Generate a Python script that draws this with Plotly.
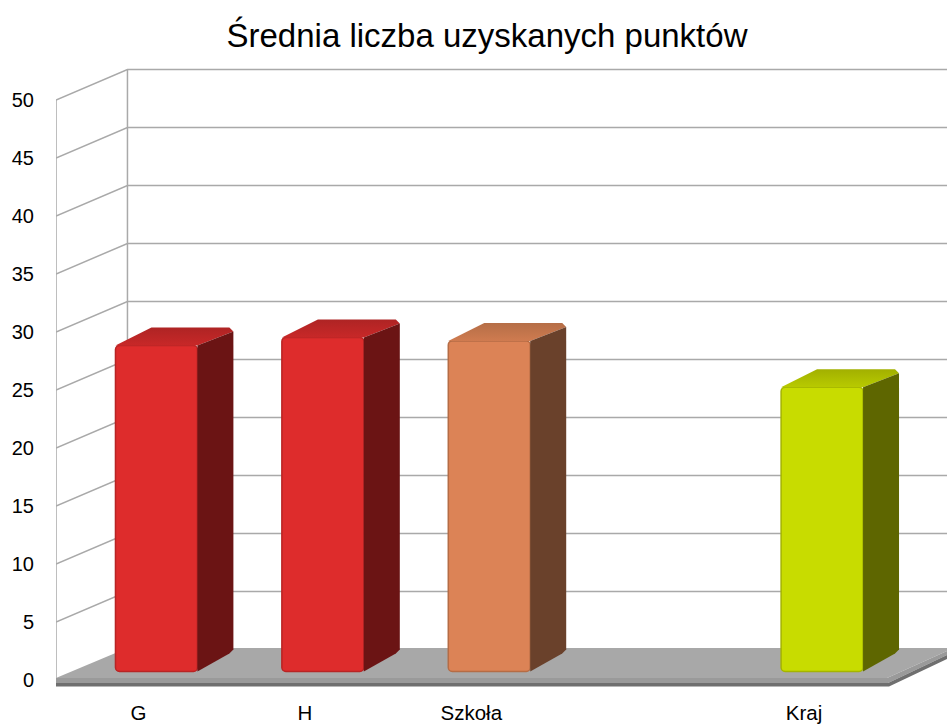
import plotly.graph_objects as go

title_text = "Średnia liczba uzyskanych punktów"
categories = ["G", "H", "Szkoła", "", "Kraj"]
values = [28.1, 28.8, 28.5, None, 24.5]
y_ticks = [0, 5, 10, 15, 20, 25, 30, 35, 40, 45, 50]
front_colors = ["#DE2C2C", "#DE2C2C", "#DC8356", None, "#C8DC00"]
edge_colors = ["#B82424", "#B82424", "#B56C45", None, "#A4B400"]
side_colors = ["#6B1414", "#6B1414", "#6A412B", None, "#5E6600"]
top_back_colors = ["#AE2424", "#AE2424", "#B56E47", None, "#A2B000"]
top_front_colors = ["#C82828", "#C82828", "#CF7B50", None, "#B8CA00"]

W, H = 947, 725
PX_X = 166.5          # pixels per category
PX_Y = 11.6           # pixels per value unit
ZERO_X, ZERO_Y = 156.0, 680.0
LEFT, BOTTOM = 55.5, 690.0


def dx(px):
    return px / PX_X


def dy(px):
    return px / PX_Y


def xd(px):
    return (px - ZERO_X) / PX_X


def yd(px):
    return (ZERO_Y - px) / PX_Y


def poly(points, fill, line=None, width=0):
    path = "M " + " L ".join(f"{x:.4f},{y:.4f}" for x, y in points) + " Z"
    return dict(type="path", path=path, xref="x", yref="y", layer="below",
                fillcolor=fill, line=dict(color=line or fill, width=width))


def seg(points, color="#A9A9A9", width=1.5):
    path = "M " + " L ".join(f"{x:.4f},{y:.4f}" for x, y in points)
    return dict(type="path", path=path, xref="x", yref="y", layer="below",
                line=dict(color=color, width=width))


# walls
shapes = []
wall_left, wall_back, wall_right = xd(LEFT), xd(127.0), xd(947.0)
wall_rise = dy(30.5)
top_v = y_ticks[-1]
shapes.append(seg([(wall_left, 0), (wall_left, top_v)]))
shapes.append(seg([(wall_back, wall_rise), (wall_back, top_v + wall_rise)]))
for v in y_ticks[1:]:
    shapes.append(seg([(wall_left, v), (wall_back, v + wall_rise), (wall_right, v + wall_rise)]))

# floor
shapes.append(poly([(xd(55.5), yd(678)), (xd(127), yd(648)), (xd(947), yd(648)),
                    (xd(947), yd(651)), (xd(887), yd(678))], "#A8A8A8"))
shapes.append(poly([(xd(55.5), yd(678)), (xd(887), yd(678)), (xd(947), yd(651)),
                    (xd(947), yd(655)), (xd(888), yd(683)), (xd(55.5), yd(683))], "#9A9A9A"))
shapes.append(poly([(xd(55.5), yd(683)), (xd(888), yd(683)), (xd(947), yd(655)),
                    (xd(947), yd(659)), (xd(889), yd(686.5)), (xd(55.5), yd(686.5))], "#6F6F6F"))

# bars
base = dy(ZERO_Y - 671.5)
bar_w = dx(82)
depth_x, depth_y = dx(36), dy(18)
xs = [i for i, v in enumerate(values) if v is not None]

fig = go.Figure()
fig.add_trace(go.Bar(
    x=xs, y=[values[i] for i in xs], base=base, width=bar_w,
    marker=dict(color=[front_colors[i] for i in xs],
                line=dict(color=[edge_colors[i] for i in xs], width=1.5)),
    showlegend=False, hoverinfo="skip"))

ch_x, ch_y = dx(4), dy(4)
for i in xs:
    xl, xr = i - bar_w / 2, i + bar_w / 2
    t = base + values[i]
    fig.add_trace(go.Scatter(
        x=[xl, xl + depth_x, xr + depth_x - ch_x, xr + depth_x, xr],
        y=[t, t + depth_y, t + depth_y, t + depth_y - ch_y, t],
        mode="lines", line=dict(width=0), fill="toself", showlegend=False, hoverinfo="skip",
        fillgradient=dict(type="vertical",
                          colorscale=[[0, top_front_colors[i]], [1, top_back_colors[i]]])))
    fig.add_trace(go.Scatter(
        x=[xr, xr + depth_x, xr + depth_x, xr + depth_x - ch_x, xr],
        y=[t, t + depth_y - ch_y, base + depth_y + ch_y, base + depth_y, base],
        mode="lines", line=dict(width=0), fill="toself", fillcolor=side_colors[i],
        showlegend=False, hoverinfo="skip"))

label_shift = dx(18)
fig.update_layout(
    width=W, height=H, margin=dict(l=LEFT, r=0, t=0, b=H - BOTTOM, autoexpand=False),
    paper_bgcolor="white", plot_bgcolor="white",
    font=dict(family="Liberation Sans, Arial, sans-serif", color="#000000", size=20),
    title=dict(text=title_text, x=487 / W, xanchor="center", y=1 - 35 / H, yanchor="middle",
               font=dict(size=33)),
    shapes=shapes, barcornerradius=4, showlegend=False,
    xaxis=dict(range=[xd(LEFT), xd(W)], showgrid=False, zeroline=False, showline=False,
               automargin=False, tickfont=dict(size=20.5),
               tickmode="array", tickvals=[i - label_shift for i in range(len(categories))],
               ticktext=categories, ticks="outside", ticklen=4, tickcolor="rgba(0,0,0,0)",
               tickangle=0),
    yaxis=dict(range=[yd(BOTTOM), yd(0)], showgrid=False, zeroline=False, showline=False,
               automargin=False,
               tickmode="array", tickvals=y_ticks, ticktext=[str(v) for v in y_ticks],
               ticks="outside", ticklen=17, tickcolor="rgba(0,0,0,0)"),
)
fig.write_html("out.html", config=dict(displayModeBar=False),
               post_script="document.body.style.margin='0';")
